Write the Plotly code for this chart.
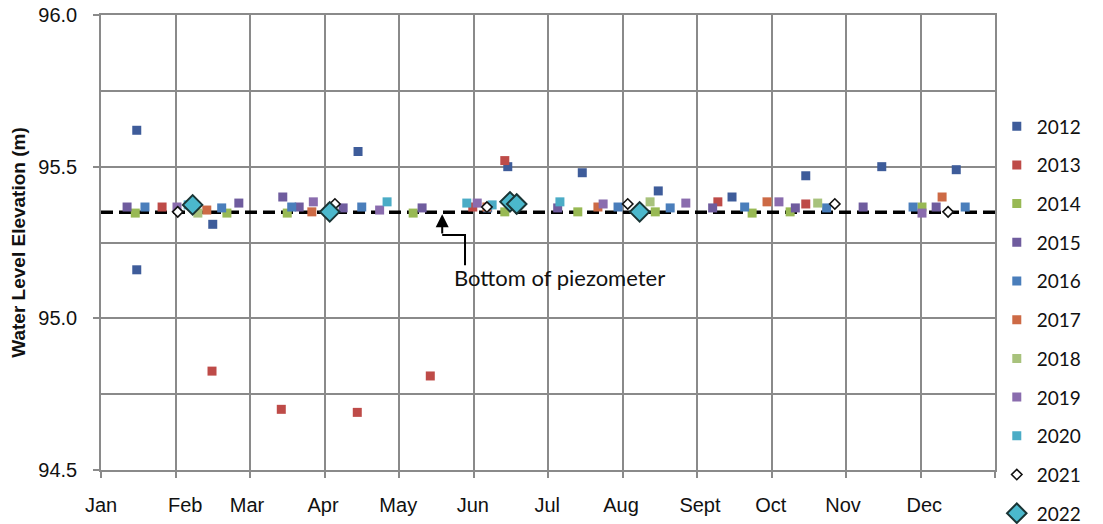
import plotly.graph_objects as go

# x positions are decimal months (0 = start of January, 12 = end of December)
month_labels = ["Jan", "Feb", "Mar", "Apr", "May", "Jun", "Jul", "Aug", "Sept", "Oct", "Nov", "Dec"]

years = ["2012", "2013", "2014", "2015", "2016", "2017", "2018", "2019", "2020", "2021", "2022"]

x_2012 = [0.48, 0.48, 1.50, 3.45, 5.46, 6.46, 7.48, 8.47, 9.46, 10.48, 11.48]
y_2012 = [95.62, 95.16, 95.31, 95.55, 95.50, 95.48, 95.42, 95.40, 95.47, 95.50, 95.49]

x_2013 = [0.82, 1.49, 2.42, 3.44, 4.42, 4.99, 5.42, 8.28, 9.46]
y_2013 = [95.367, 94.826, 94.70, 94.69, 94.81, 95.367, 95.52, 95.384, 95.377]

x_2014 = [0.46, 1.69, 2.50, 4.19, 5.42, 6.40, 7.44, 8.74, 9.25, 11.02]
y_2014 = [95.347, 95.347, 95.347, 95.347, 95.351, 95.351, 95.351, 95.347, 95.351, 95.367]

x_2015 = [0.35, 1.85, 2.44, 2.66, 3.25, 4.31, 6.13, 8.21, 9.32, 10.23, 11.21]
y_2015 = [95.367, 95.38, 95.40, 95.367, 95.364, 95.364, 95.364, 95.364, 95.364, 95.367, 95.367]

x_2016 = [0.59, 1.62, 2.56, 3.50, 5.19, 6.94, 7.64, 8.64, 9.74, 10.90, 11.60]
y_2016 = [95.367, 95.364, 95.367, 95.367, 95.364, 95.367, 95.364, 95.367, 95.364, 95.367, 95.367]

x_2017 = [1.42, 2.83, 5.18, 6.67, 8.94, 11.29]
y_2017 = [95.357, 95.351, 95.367, 95.367, 95.384, 95.40]

x_2018 = [1.30, 3.10, 7.37, 9.62]
y_2018 = [95.347, 95.367, 95.384, 95.380]

x_2019 = [1.02, 2.85, 3.74, 5.05, 6.74, 7.85, 9.10, 11.02]
y_2019 = [95.367, 95.384, 95.357, 95.380, 95.377, 95.380, 95.384, 95.347]

x_2020 = [1.17, 3.84, 4.91, 5.25, 6.16]
y_2020 = [95.374, 95.384, 95.380, 95.374, 95.384]

x_2021 = [1.03, 3.14, 5.18, 7.07, 9.85, 11.37]
y_2021 = [95.351, 95.377, 95.367, 95.377, 95.377, 95.351]

x_2022 = [1.23, 3.07, 5.49, 5.58, 7.23]
y_2022 = [95.374, 95.351, 95.384, 95.377, 95.351]

piezometer_bottom = 95.35
piezometer_label = "Bottom of piezometer"

series_x = [x_2012, x_2013, x_2014, x_2015, x_2016, x_2017, x_2018, x_2019, x_2020, x_2021, x_2022]
series_y = [y_2012, y_2013, y_2014, y_2015, y_2016, y_2017, y_2018, y_2019, y_2020, y_2021, y_2022]

colors = ["#3E5C9A", "#BE4B48", "#98B954", "#6F5C9E", "#4A7EBB", "#CD6A45",
          "#A8C27C", "#8A6CAE", "#4BACC6", "#FFFFFF", "#4BB8CC"]

fig = go.Figure()

fig.add_trace(go.Scatter(
    x=[0, 12], y=[piezometer_bottom, piezometer_bottom], mode="lines",
    line=dict(color="black", width=3.5, dash="12px,6px"),
    showlegend=False, hoverinfo="skip"))

for i, yr in enumerate(years):
    if yr == "2021":
        marker = dict(symbol="diamond", size=8, color="#FFFFFF",
                      line=dict(color="#111111", width=1.6))
    elif yr == "2022":
        marker = dict(symbol="diamond", size=15, color=colors[i],
                      line=dict(color="#1A3535", width=2))
    else:
        marker = dict(symbol="square", size=9, color=colors[i], line=dict(width=0))
    fig.add_trace(go.Scatter(x=series_x[i], y=series_y[i], mode="markers",
                             name=yr, marker=marker, legendgroup=yr))

grid_col = "#8A8A8A"
label_pos = [0.0, 1.13, 1.96, 2.98, 3.99, 4.99, 5.99, 6.98, 8.04, 8.99, 9.96, 11.05]

fig.update_xaxes(
    range=[0, 12], tickvals=label_pos, ticktext=month_labels, ticks="",
    showgrid=False, zeroline=False,
    showline=True, mirror=True, linecolor=grid_col, linewidth=1.5,
    tickfont=dict(family="Liberation Sans, Arial", size=20, color="#111111"),
    ticklabelstandoff=16,
    minor=dict(tickvals=list(range(0, 13)), showgrid=True, gridcolor=grid_col,
               gridwidth=1.5, ticks="outside", ticklen=6, tickcolor=grid_col, tickwidth=1.5))

fig.update_yaxes(
    range=[94.5, 96.0], tickvals=[94.5, 95.0, 95.5, 96.0], tickformat=".1f",
    showgrid=True, gridcolor=grid_col, gridwidth=1.5, zeroline=False,
    ticks="outside", ticklen=6, tickcolor=grid_col, tickwidth=1.5,
    showline=True, mirror=True, linecolor=grid_col, linewidth=1.5,
    tickfont=dict(family="Liberation Sans, Arial", size=20, color="#111111"),
    ticklabelstandoff=12,
    title=dict(text="<b>Water Level Elevation (m)</b>", standoff=8,
               font=dict(family="Liberation Sans, Arial", size=19, color="#111111")),
    minor=dict(dtick=0.25, showgrid=True, gridcolor=grid_col, gridwidth=1.5))

# arrow pointing to the bottom of the piezometer
fig.add_annotation(x=4.58, y=piezometer_bottom, ax=4.58, ay=95.275,
                   xref="x", yref="y", axref="x", ayref="y",
                   text="", showarrow=True, arrowhead=2, arrowsize=1.3,
                   arrowwidth=2, arrowcolor="black", standoff=2)
fig.add_shape(type="path", xref="x", yref="y",
              path="M 4.58 95.275 L 4.886 95.275 L 4.886 95.175",
              line=dict(color="black", width=2))
fig.add_annotation(x=6.15, y=95.133, xref="x", yref="y", text=piezometer_label,
                   showarrow=False, font=dict(family="Lato", size=22, color="#111111"))

fig.update_layout(
    width=1103, height=524,
    margin=dict(l=101, r=108, t=15, b=54, autoexpand=False),
    plot_bgcolor="white", paper_bgcolor="white",
    legend=dict(x=1.002, xanchor="left", y=0.797, yanchor="top",
                traceorder="grouped", tracegroupgap=11, maxheight=800,
                font=dict(family="Lato", size=19, color="#111111"),
                itemwidth=30, bgcolor="rgba(0,0,0,0)"),
)

# remove the default page margin so the figure fills the window exactly
fig.write_html("out.html", config={"displayModeBar": False},
               post_script="document.body.style.margin='0';document.body.style.overflow='hidden';")
